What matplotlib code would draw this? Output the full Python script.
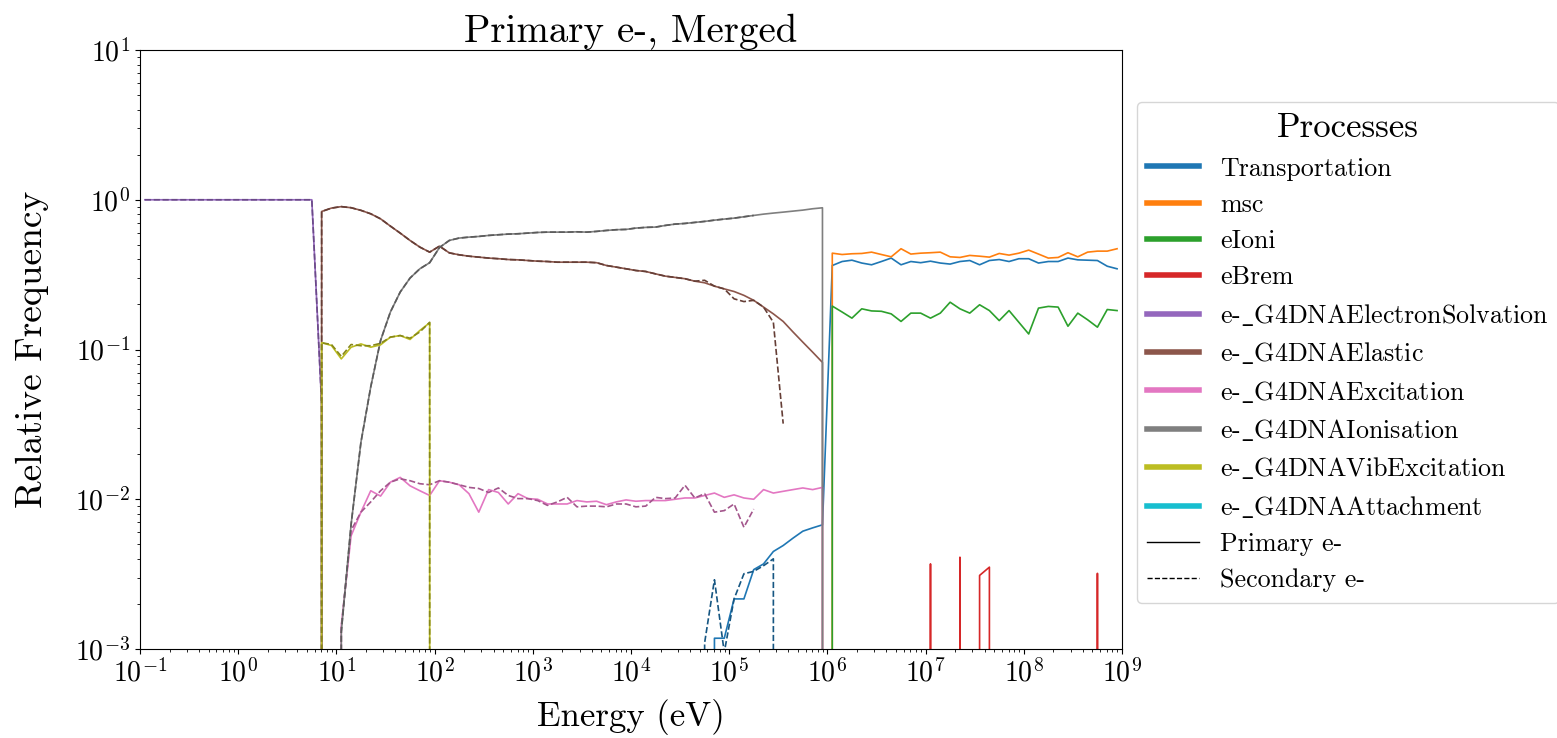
import numpy as np
import matplotlib
matplotlib.use("Agg")
import matplotlib.pyplot as plt
from matplotlib.lines import Line2D
from matplotlib.colors import to_rgb

plt.rcParams['font.family'] = ['cmr10', 'DejaVu Serif']
plt.rcParams['mathtext.fontset'] = 'cm'
plt.rcParams['axes.formatter.use_mathtext'] = True
plt.rcParams['axes.unicode_minus'] = False

# energy binning: 100 log bins from 0.1 eV to 1 GeV
n_bins = 100
edges = np.logspace(-1, 9, n_bins + 1)
energy = np.sqrt(edges[:-1] * edges[1:])

nan = np.nan


def fill(start, vals, rest=0.0):
    arr = np.full(n_bins, rest)
    arr[start:start + len(vals)] = vals
    return arr


# ---- primary electrons (relative frequency per bin) ----
transp_p = fill(58, [0.00118, 0.00118, 0.00216, 0.00216, 0.00339, 0.0037, 0.00448, 0.00491,
                     0.0055, 0.00612, 0.00644, 0.00675,
                     0.364, 0.387, 0.395, 0.378, 0.368, 0.387, 0.408, 0.368, 0.387, 0.380,
                     0.389, 0.378, 0.372, 0.387, 0.393, 0.368, 0.393, 0.399, 0.387, 0.404,
                     0.404, 0.378, 0.387, 0.387, 0.408, 0.397, 0.395, 0.393, 0.360, 0.346])
msc_p = fill(70, [0.440, 0.431, 0.436, 0.438, 0.447, 0.431, 0.416, 0.471, 0.434, 0.440,
                  0.443, 0.447, 0.416, 0.412, 0.425, 0.420, 0.414, 0.438, 0.427, 0.440,
                  0.461, 0.434, 0.408, 0.412, 0.443, 0.416, 0.447, 0.454, 0.454, 0.471])
eioni_p = fill(70, [0.195, 0.178, 0.162, 0.187, 0.181, 0.180, 0.173, 0.154, 0.175, 0.175,
                    0.162, 0.175, 0.207, 0.187, 0.175, 0.199, 0.182, 0.156, 0.182, 0.152,
                    0.127, 0.189, 0.194, 0.192, 0.143, 0.175, 0.158, 0.141, 0.185, 0.182])
ebrem_p = fill(80, [0.0037, 0, 0, 0.0041, 0, 0.0031, 0.00352, 0, 0, 0, 0, 0, 0, 0, 0, 0, 0, 0.0032])
solv_p = fill(0, [1.0] * 18 + [0.043])
elastic_p = fill(18, [0.835, 0.88, 0.90, 0.885, 0.85, 0.806, 0.746, 0.667, 0.599, 0.535,
                      0.483, 0.447, 0.49, 0.442, 0.429, 0.420, 0.414, 0.408, 0.404, 0.399,
                      0.397, 0.393, 0.389, 0.387, 0.383, 0.383, 0.383, 0.383, 0.380, 0.364,
                      0.355, 0.346, 0.337, 0.332, 0.320, 0.309, 0.303, 0.297, 0.286, 0.279,
                      0.265, 0.254, 0.244, 0.230, 0.213, 0.192, 0.173, 0.154, 0.131, 0.112,
                      0.096, 0.082])
excit_p = fill(20, [0.00143, 0.0057, 0.0082, 0.0114, 0.0105, 0.0130, 0.0140, 0.0123, 0.0114, 0.0106,
                    0.0133, 0.0130, 0.0125, 0.0109, 0.0082, 0.0116, 0.0111, 0.0093, 0.0109, 0.0101,
                    0.0100, 0.0093, 0.0093, 0.0093, 0.0098, 0.0096, 0.0097, 0.0092, 0.0096, 0.0099,
                    0.0097, 0.0098, 0.0098, 0.0098, 0.0100, 0.0102, 0.0102, 0.0106, 0.0110, 0.0103,
                    0.0107, 0.0102, 0.0100, 0.0116, 0.0110, 0.0113, 0.0116, 0.0119, 0.0116, 0.0120])
ionis_p = fill(20, [0.0013, 0.0068, 0.0240, 0.0563, 0.115, 0.178, 0.242, 0.300, 0.346, 0.380,
                    0.480, 0.535, 0.555, 0.563, 0.569, 0.578, 0.584, 0.590, 0.593, 0.599,
                    0.605, 0.608, 0.608, 0.608, 0.611, 0.608, 0.615, 0.624, 0.631, 0.634,
                    0.647, 0.654, 0.657, 0.674, 0.688, 0.695, 0.706, 0.717, 0.731, 0.743,
                    0.754, 0.770, 0.786, 0.802, 0.815, 0.827, 0.840, 0.853, 0.871, 0.884])
vib_p = fill(18, [0.111, 0.1064, 0.0866, 0.1036, 0.109, 0.1036, 0.1075, 0.121, 0.124, 0.1167,
                  0.134, 0.1508])
attach_p = fill(0, [])

# ---- secondary electrons ----
transp_s = fill(57, [0.0011, 0.0029, 0.00095, 0.00216, 0.00318, 0.0033, 0.0036, 0.0040])
msc_s = fill(0, [])
eioni_s = fill(0, [])
ebrem_s = fill(0, [])
solv_s = fill(0, [1.0] * 18 + [0.043])
elastic_s = fill(18, [0.835, 0.88, 0.90, 0.885, 0.85, 0.806, 0.746, 0.667, 0.599, 0.535,
                      0.483, 0.447, 0.49, 0.442, 0.429, 0.420, 0.414, 0.408, 0.404, 0.399,
                      0.397, 0.393, 0.389, 0.387, 0.383, 0.383, 0.383, 0.383, 0.380, 0.364,
                      0.355, 0.346, 0.337, 0.332, 0.320, 0.309, 0.303, 0.297, 0.286, 0.290,
                      0.265, 0.254, 0.218, 0.209, 0.213, 0.192, 0.152, 0.032], rest=nan)
elastic_s[:18] = 0
excit_s = fill(20, [0.0014, 0.0062, 0.0082, 0.0096, 0.0114, 0.0130, 0.0137, 0.0133, 0.0127, 0.0125,
                    0.0133, 0.0130, 0.0125, 0.0120, 0.0118, 0.0111, 0.0119, 0.0106, 0.0101, 0.0101,
                    0.0098, 0.0091, 0.0096, 0.0103, 0.0089, 0.0090, 0.0090, 0.0089, 0.0093, 0.0093,
                    0.0089, 0.0090, 0.0103, 0.0101, 0.0102, 0.0124, 0.0102, 0.0109, 0.0082, 0.0084,
                    0.0093, 0.0065, 0.0086], rest=nan)
excit_s[:20] = 0
ionis_s = fill(20, [0.0013, 0.0068, 0.0240, 0.0563, 0.115, 0.178, 0.242, 0.300, 0.346, 0.380,
                    0.480, 0.535, 0.555, 0.563, 0.569, 0.578, 0.584, 0.590, 0.593, 0.599,
                    0.605, 0.608, 0.608, 0.608, 0.611, 0.608, 0.615, 0.624, 0.631, 0.634,
                    0.647, 0.654, 0.657, 0.674, 0.688, 0.695, 0.706, 0.717, 0.731, 0.743,
                    0.754, 0.770, 0.786], rest=nan)
ionis_s[:20] = 0
vib_s = fill(18, [0.111, 0.108, 0.090, 0.108, 0.106, 0.106, 0.110, 0.121, 0.124, 0.119,
                  0.131, 0.152])
attach_s = fill(0, [])

processes = ['Transportation', 'msc', 'eIoni', 'eBrem', 'e-$\\_$G4DNAElectronSolvation',
             'e-$\\_$G4DNAElastic', 'e-$\\_$G4DNAExcitation', 'e-$\\_$G4DNAIonisation',
             'e-$\\_$G4DNAVibExcitation', 'e-$\\_$G4DNAAttachment']
primary = [transp_p, msc_p, eioni_p, ebrem_p, solv_p, elastic_p, excit_p, ionis_p, vib_p, attach_p]
secondary = [transp_s, msc_s, eioni_s, ebrem_s, solv_s, elastic_s, excit_s, ionis_s, vib_s, attach_s]
colors = ['C%d' % k for k in range(10)]

fig, ax = plt.subplots(figsize=(15.57, 7.38), dpi=100)
fig.subplots_adjust(left=0.0899, right=0.7206, top=0.9322, bottom=0.1206)

for name, prim, sec, col in zip(processes, primary, secondary, colors):
    dark = tuple(0.72 * c for c in to_rgb(col))
    ax.plot(energy, prim, color=col, lw=1.2)
    ax.plot(energy, sec, color=dark, lw=1.2, ls='--')

ax.set_xscale('log')
ax.set_yscale('log')
ax.set_xlim(1e-1, 1e9)
ax.set_ylim(1e-3, 1e1)
ax.set_xticks([10.0 ** k for k in range(-1, 10)])
ax.tick_params(labelsize=20)
ax.set_xlabel('Energy (eV)', fontsize=25, labelpad=8)
ax.set_ylabel('Relative Frequency', fontsize=27, labelpad=19)
ax.set_title('Primary e-, Merged', fontsize=28)

handles = [Line2D([], [], color=c, lw=4) for c in colors]
handles += [Line2D([], [], color='k', lw=1), Line2D([], [], color='k', lw=1, ls='--')]
labels = processes + ['Primary e-', 'Secondary e-']
ax.legend(handles, labels, title='Processes', loc='center left', bbox_to_anchor=(1.015, 0.495),
          borderaxespad=0, fontsize=18.7, title_fontsize=25, labelspacing=0.48)

fig.savefig('out.png', dpi=100)
